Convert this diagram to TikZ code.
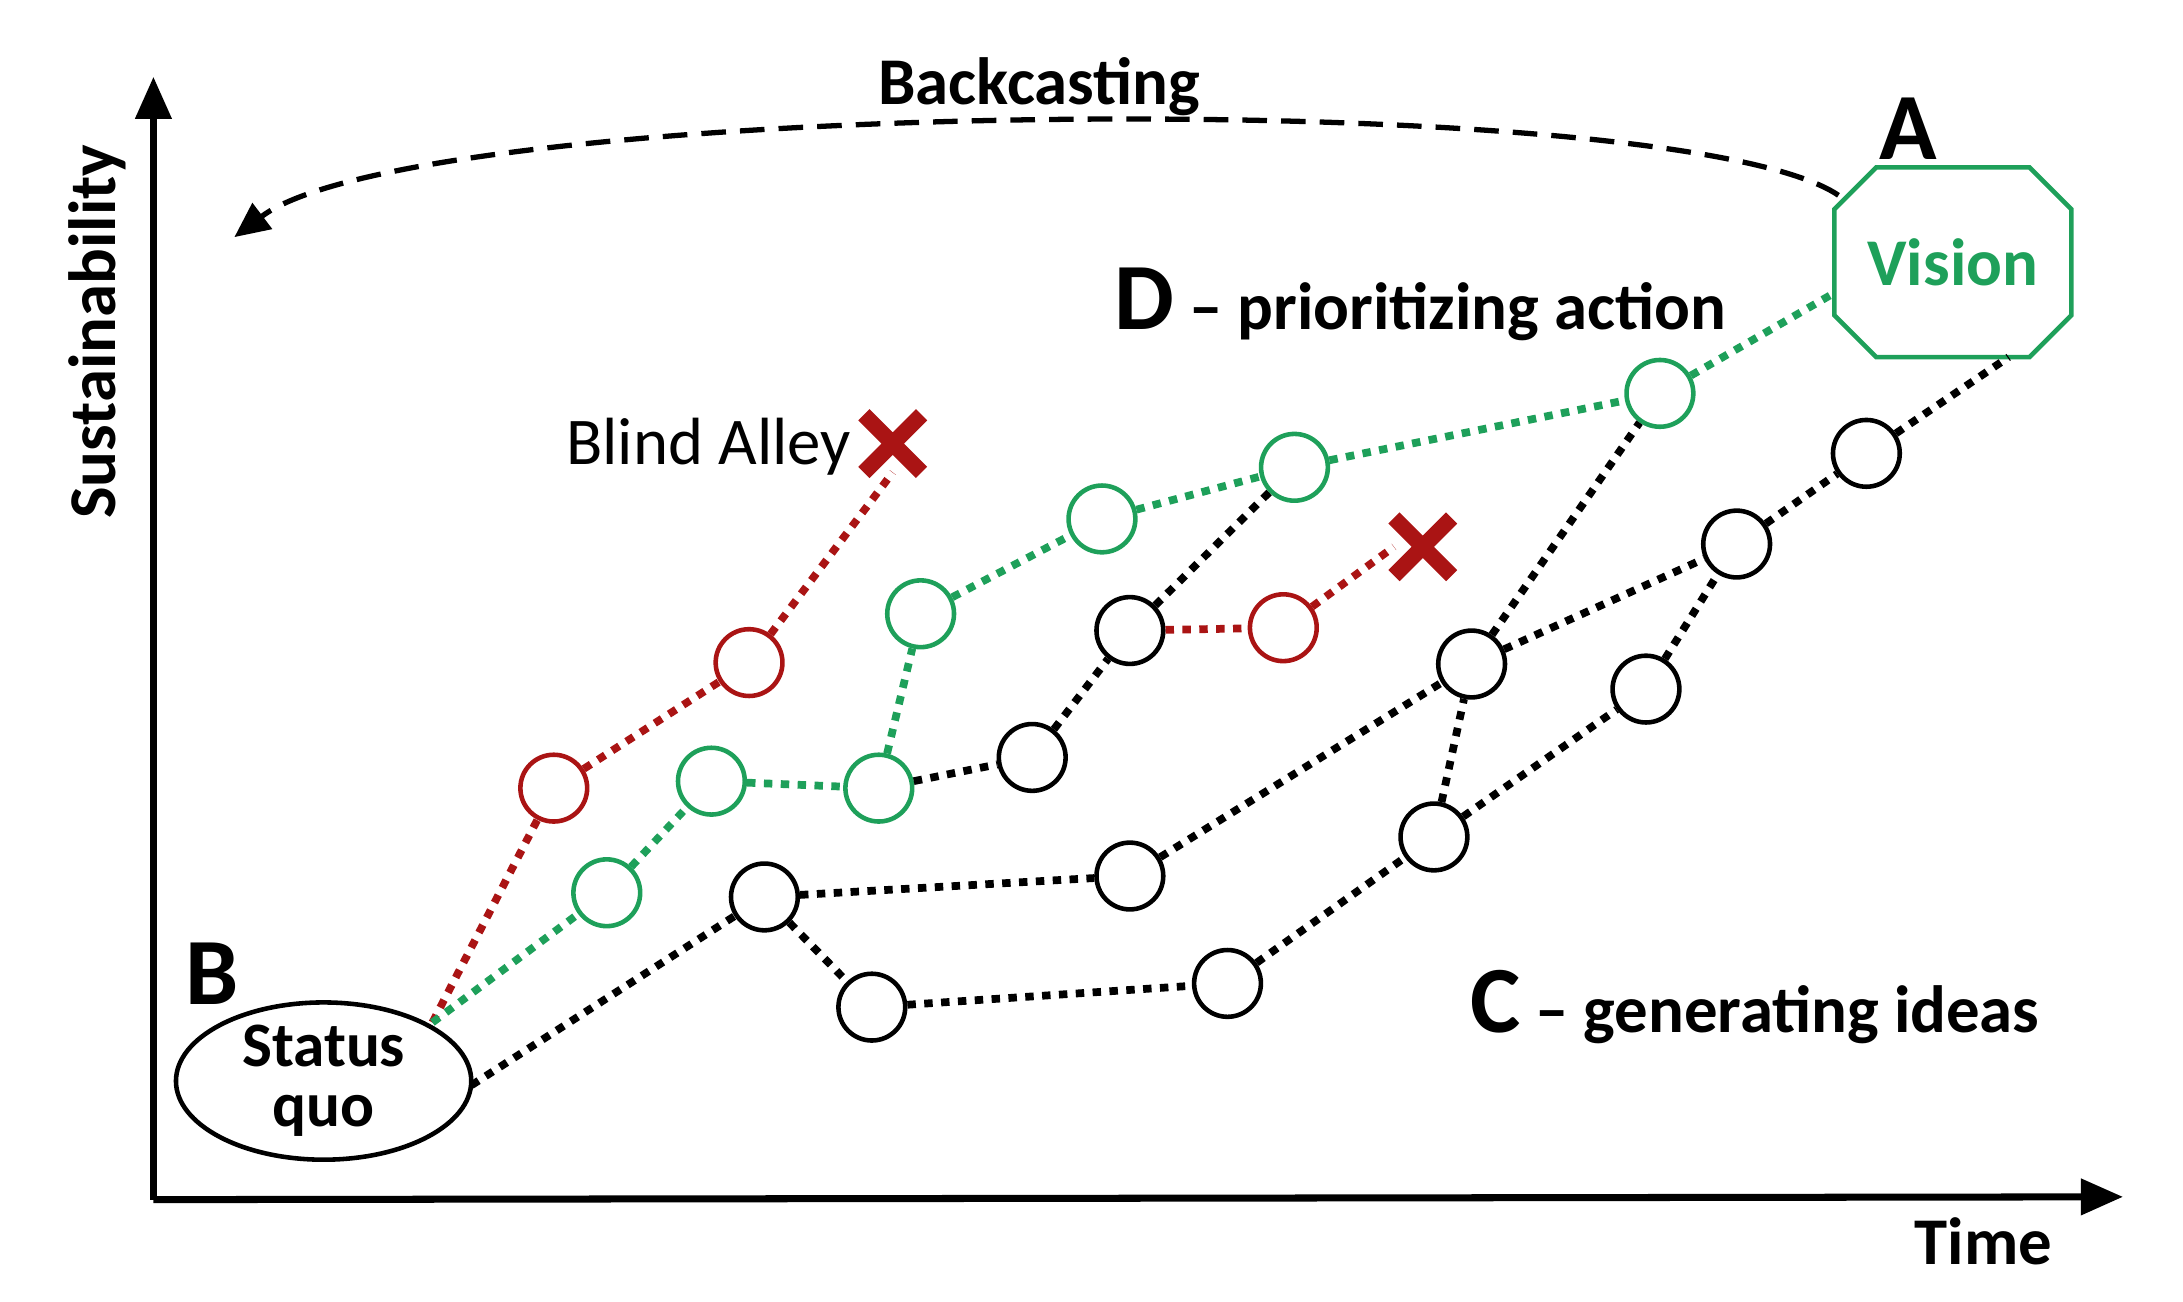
\documentclass[tikz,border=0pt]{standalone}
\usepackage{fontspec}
\setmainfont{Carlito}
\usetikzlibrary{shapes.geometric,arrows.meta}
\definecolor{gr}{RGB}{30,160,90}
\definecolor{rd}{RGB}{170,20,20}
\begin{document}
\begin{tikzpicture}[x=0.01395cm,y=-0.01395cm,
 c/.style={circle,draw,line width=1.3pt,minimum size=19pt,inner sep=0pt},
 dl/.style={line width=2.2pt,dash pattern=on 2.4pt off 2.4pt},
 big/.style={font=\fontsize{27}{29}\selectfont\bfseries},
 lab/.style={font=\fontsize{19}{21}\selectfont\bfseries},
 xm/.style={draw=none,minimum size=16pt,inner sep=0pt}]
\useasboundingbox (0,0) rectangle (1565,933);
% axes
\draw[line width=2pt,-{Triangle[length=12pt,width=10pt]}] (110,860) -- (110,55);
\draw[line width=2pt,-{Triangle[length=12pt,width=10pt]}] (110,860) -- (1522,858);
\node[rotate=90,lab] (sus) at (70,238) {Sustainability};
\node[lab] (time) at (1422,890) {Time};
% backcasting
\node[lab] (bc) at (745,62) {Backcasting};
\coordinate (bs) at (1318,140);
\coordinate (be) at (168,170);
\draw[line width=1.5pt,dash pattern=on 7pt off 4pt,-{Triangle[length=10pt,width=9pt]}] (bs) .. controls (1200,60) and (300,70) .. (be);
% labels
\node[big] (A) at (1368,92) {A};
\node[big] (B) at (152,698) {B};
\node[lab,anchor=west] (D) at (790,218) {\fontsize{27}{29}\selectfont D\fontsize{19}{21}\selectfont{} – prioritizing action};
\node[lab,anchor=west] (C) at (1045,722) {\fontsize{27}{29}\selectfont C\fontsize{19}{21}\selectfont{} – generating ideas};
\node[font=\fontsize{19}{21}\selectfont] (ba) at (508,320) {Blind Alley};
\node[xm] (x1) at (640,318) {};
\node[xm] (x2) at (1020,392) {};
\foreach \x in {x1,x2}
  \draw[rd,line width=4.5pt] (\x.north west) -- (\x.south east) (\x.north east) -- (\x.south west);
% main nodes
\node[draw,ellipse,line width=1.3pt,minimum width=84pt,minimum height=40pt,align=center,inner sep=0pt,font=\fontsize{18}{17}\selectfont\bfseries] (sq) at (232,775) {Status\\quo};
\node[text=gr,font=\fontsize{19}{21}\selectfont\bfseries,minimum width=68pt,minimum height=54pt] (v) at (1400,188) {Vision};
\draw[gr,line width=1.3pt] (1345,120) -- (1455,120) -- (1485,150) -- (1485,226) -- (1455,256) -- (1345,256) -- (1315,226) -- (1315,150) -- cycle;
\coordinate (sqa) at (310,733);
\coordinate (sqb) at (338,778);
\coordinate (vw) at (1315,210);
\coordinate (vse) at (1440,256);
% circles
\foreach \n/\x/\y in {r1/397/565,r2/537/475,r3/920/450}
  \node[c,draw=rd] (\n) at (\x,\y) {};
\foreach \n/\x/\y in {g1/435/640,g2/510/560,g3/630/565,g4/660/440,g5/790/372,g6/928/335,g7/1190/282}
  \node[c,draw=gr] (\n) at (\x,\y) {};
\foreach \n/\x/\y in {k1/548/643,k2/625/722,k3/740/543,k4/810/452,k5/810/628,k6/880/705,k7/1055/476,k8/1028/600,k9/1180/494,k10/1245/390,k11/1338/325}
  \node[c] (\n) at (\x,\y) {};
% connectors
\draw[dl,rd] (sqa) -- (r1) -- (r2) -- (x1.south);
\draw[dl,rd] (k4) -- (r3) -- (x2.west);
\draw[dl,gr] (sqa) -- (g1) -- (g2) -- (g3) -- (g4) -- (g5) -- (g6) -- (g7) -- (vw);
\draw[dl] (sqb) -- (k1) -- (k5) -- (k7) -- (k10) -- (k11) -- (vse);
\draw[dl] (k1) -- (k2) -- (k6) -- (k8) -- (k9) -- (k10);
\draw[dl] (k8) -- (k7) -- (g7);
\draw[dl] (g3) -- (k3) -- (k4) -- (g6);
\end{tikzpicture}
\end{document}
